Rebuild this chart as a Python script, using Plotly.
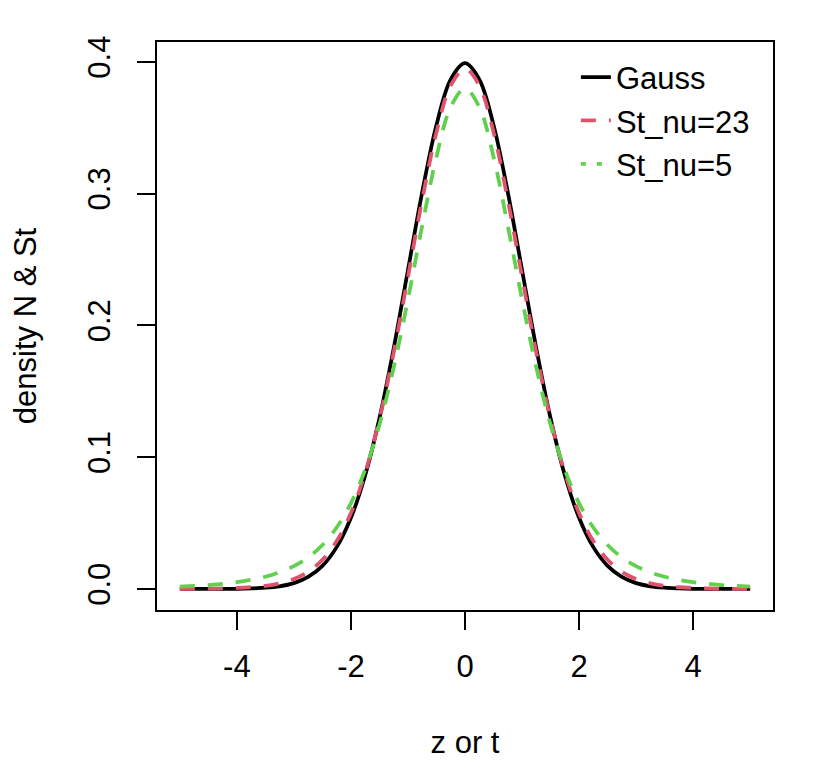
import plotly.graph_objects as go

# x grid (step 0.25)
x_vals = [-5.0, -4.75, -4.5, -4.25, -4.0, -3.75, -3.5, -3.25, -3.0, -2.75, -2.5, -2.25, -2.0, -1.75, -1.5, -1.25, -1.0, -0.75, -0.5, -0.25,
          0.0, 0.25, 0.5, 0.75, 1.0, 1.25, 1.5, 1.75, 2.0, 2.25, 2.5, 2.75, 3.0, 3.25, 3.5, 3.75, 4.0, 4.25, 4.5, 4.75, 5.0]

gauss = [0.0000, 0.0000, 0.0000, 0.0000, 0.0001, 0.0004, 0.0009, 0.0020, 0.0044, 0.0091, 0.0175, 0.0317, 0.0540, 0.0863, 0.1295, 0.1826, 0.2420, 0.3011, 0.3521, 0.3867,
         0.3989, 0.3867, 0.3521, 0.3011, 0.2420, 0.1826, 0.1295, 0.0863, 0.0540, 0.0317, 0.0175, 0.0091, 0.0044, 0.0020, 0.0009, 0.0004, 0.0001, 0.0000, 0.0000, 0.0000, 0.0000]

st_nu23 = [0.0001, 0.0001, 0.0002, 0.0004, 0.0007, 0.0013, 0.0023, 0.0042, 0.0075, 0.0130, 0.0221, 0.0363, 0.0576, 0.0881, 0.1287, 0.1793, 0.2368, 0.2953, 0.3466, 0.3820,
           0.3946, 0.3820, 0.3466, 0.2953, 0.2368, 0.1793, 0.1287, 0.0881, 0.0576, 0.0363, 0.0221, 0.0130, 0.0075, 0.0042, 0.0023, 0.0013, 0.0007, 0.0004, 0.0002, 0.0001, 0.0001]

st_nu5 = [0.0018, 0.0023, 0.0029, 0.0039, 0.0051, 0.0069, 0.0092, 0.0126, 0.0173, 0.0239, 0.0333, 0.0466, 0.0651, 0.0905, 0.1245, 0.1679, 0.2197, 0.2757, 0.3279, 0.3657,
          0.3796, 0.3657, 0.3279, 0.2757, 0.2197, 0.1679, 0.1245, 0.0905, 0.0651, 0.0466, 0.0333, 0.0239, 0.0173, 0.0126, 0.0092, 0.0069, 0.0051, 0.0039, 0.0029, 0.0023, 0.0018]

x_ticks = [-4, -2, 0, 2, 4]
x_tick_labels = ["-4", "-2", "0", "2", "4"]
y_ticks = [0.0, 0.1, 0.2, 0.3, 0.4]
y_tick_labels = ["0.0", "0.1", "0.2", "0.3", "0.4"]

RED = "#DF536B"
GREEN = "#61D04F"
FONT = "Liberation Sans, Arial, Helvetica, sans-serif"
FS = 31

fig = go.Figure()
fig.add_trace(go.Scatter(x=x_vals, y=gauss, mode="lines", name="Gauss",
                         line=dict(color="black", width=3.75, shape="spline")))
fig.add_trace(go.Scatter(x=x_vals, y=st_nu23, mode="lines", name="St_nu=23",
                         line=dict(color=RED, width=3.75, dash="15px,13px", shape="spline")))
fig.add_trace(go.Scatter(x=x_vals, y=st_nu5, mode="lines", name="St_nu=5", showlegend=False,
                         line=dict(color=GREEN, width=3.75, dash="15px,13px", shape="spline")))
# legend entry for St_nu=5 (drawn dotted in the legend, as in the reference)
fig.add_trace(go.Scatter(x=[None], y=[None], mode="lines", name="St_nu=5",
                         line=dict(color=GREEN, width=3.75, dash="5px,11px")))

# page body has an 8px margin, so the figure is 8px smaller each way
fig.update_layout(
    width=800, height=752,
    margin=dict(l=149, r=35, t=34, b=150, autoexpand=False),
    paper_bgcolor="white", plot_bgcolor="white",
    font=dict(family=FONT, color="black", size=FS),
    showlegend=True,
    legend=dict(x=0.68, y=0.985, xanchor="left", yanchor="top",
                bgcolor="rgba(0,0,0,0)", font=dict(size=31, family=FONT),
                tracegroupgap=0),
)
fig.update_xaxes(range=[-5.4, 5.4], tickvals=x_ticks, ticktext=x_tick_labels, ticks="outside",
                 ticklen=18, tickwidth=1.9, tickcolor="black", showgrid=False, zeroline=False,
                 showline=True, linecolor="black", linewidth=1.9, mirror=True, automargin=False,
                 tickfont=dict(size=FS), ticklabelstandoff=10,
                 title=dict(text="z or t", font=dict(size=FS), standoff=51))
fig.update_yaxes(range=[-0.016, 0.415], tickvals=y_ticks, ticktext=y_tick_labels, ticks="outside",
                 ticklen=18, tickwidth=1.9, tickcolor="black", showgrid=False, zeroline=False,
                 showline=True, linecolor="black", linewidth=1.9, mirror=True, tickangle=-90,
                 automargin=False, tickfont=dict(size=FS), ticklabelstandoff=15,
                 title=dict(text="density N & St", font=dict(size=FS), standoff=42))

fig.write_html("out.html")
